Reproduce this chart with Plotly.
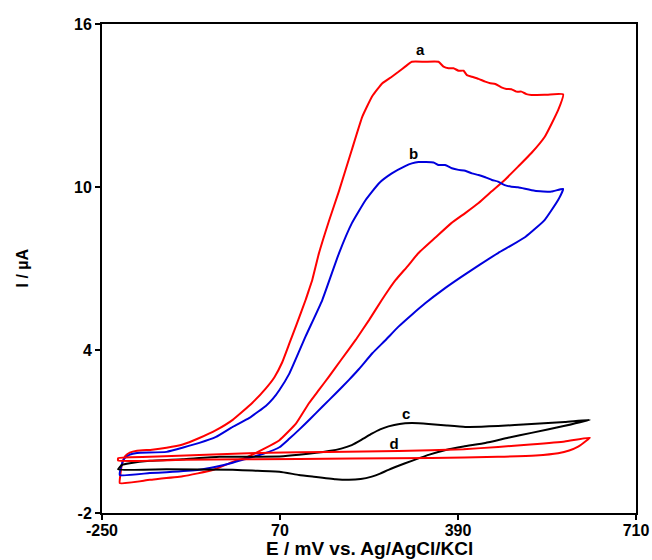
import plotly.graph_objects as go

# ---- data (E in mV, I in uA) ----
# curve a (red, large)
E_a = [-218, -217, -214, -208, -200, -187, -160, -134, -105, -75, -45, -15, 20, 45, 60, 74, 87, 99, 116, 122, 128,
       140, 158, 176, 199, 218, 236, 254, 271, 283, 295, 307, 330, 355, 364, 373, 382, 391, 400, 406, 415,
       427, 439, 448, 457, 468, 477, 486, 495, 504, 513, 522, 550, 579,
       570, 546, 522, 498, 474, 450, 427, 403, 378, 350, 319, 300, 278, 265, 253, 230, 206, 180, 158, 140, 122,
       99, 69, 40, 10, -15, -51, -105, -164, -218]
I_a = [-0.9, -0.6, -0.2, 0.1, 0.22, 0.29, 0.33, 0.4, 0.52, 0.76, 1.05, 1.43, 2.05, 2.6, 3.0, 3.55, 4.25, 4.9, 5.84, 6.21, 6.58,
       7.56, 8.75, 9.85, 11.36, 12.59, 13.35, 13.82, 14.06, 14.24, 14.43, 14.61, 14.61, 14.61, 14.43, 14.37, 14.37, 14.28, 14.28, 14.12, 14.06,
       13.98, 13.88, 13.82, 13.79, 13.67, 13.61, 13.6, 13.51, 13.51, 13.42, 13.39, 13.4, 13.41,
       12.83, 11.85, 11.25, 10.75, 10.26, 9.83, 9.41, 9.04, 8.67, 8.15, 7.57, 7.1, 6.58, 6.21, 5.84, 5.1, 4.37, 3.64, 3.02, 2.53, 2.04,
       1.3, 0.68, 0.35, 0.05, -0.12, -0.42, -0.65, -0.78, -0.9]

# curve b (blue)
E_b = [-218, -215, -210, -200, -187, -134, -75, -45, -15, 15, 45, 57, 69, 87, 116, 146, 176, 199, 224, 248, 271,
       295, 307, 319, 346, 355, 367, 379, 391, 403, 415, 427, 439, 451, 462, 474, 486, 498, 528, 558, 579,
       570, 546, 528, 511, 486, 462, 430, 396, 365, 331, 307, 283, 260, 236, 212, 194, 170, 146, 125, 104,
       86, 69, 40, 10, -15, -45, -75, -134, -164, -218]
I_b = [-0.6, -0.25, 0.0, 0.15, 0.21, 0.25, 0.58, 0.8, 1.17, 1.5, 1.95, 2.2, 2.53, 3.14, 4.5, 5.84, 7.56, 8.66, 9.52, 10.14, 10.5,
       10.77, 10.87, 10.92, 10.9, 10.81, 10.81, 10.69, 10.63, 10.6, 10.5, 10.44, 10.36, 10.26, 10.2, 10.07, 10.01, 9.99, 9.86, 9.83, 9.93,
       9.52, 8.79, 8.45, 8.16, 7.85, 7.57, 7.15, 6.69, 6.25, 5.72, 5.3, 4.86, 4.37, 3.88, 3.3, 2.9, 2.4, 1.91, 1.48, 1.06,
       0.72, 0.42, 0.18, 0.0, -0.15, -0.3, -0.41, -0.5, -0.53, -0.6]

# curve c (black)
E_c = [-221, -214, -200, -164, -105, -39, 69, 104, 158, 180, 199, 217, 235, 250, 265, 285, 307, 337, 370, 403, 462, 522, 582, 627,
       580, 522, 480, 439, 400, 368, 337, 319, 295, 265, 250, 235, 215, 194, 170, 128, 104, 69, 20, -15, -134, -221]
I_c = [-0.39, -0.23, -0.17, -0.08, -0.02, 0.07, 0.08, 0.14, 0.28, 0.37, 0.5, 0.7, 0.92, 1.08, 1.19, 1.28, 1.31, 1.28, 1.22, 1.17, 1.2, 1.28, 1.35, 1.43,
       1.2, 0.95, 0.77, 0.58, 0.45, 0.32, 0.14, 0.01, -0.17, -0.41, -0.55, -0.66, -0.75, -0.78, -0.76, -0.66, -0.6, -0.48, -0.44, -0.41, -0.39, -0.39]

# curve d (red, blank)
E_d = [-221, -150, -50, 50, 158, 283, 400, 462, 520, 582, 627,
       620, 606, 590, 570, 530, 462, 342, 200, 104, -100, -221, -221]
I_d = [0.02, 0.08, 0.15, 0.22, 0.25, 0.28, 0.35, 0.43, 0.52, 0.63, 0.77,
       0.65, 0.44, 0.3, 0.2, 0.12, 0.07, 0.02, 0.01, -0.01, -0.04, -0.07, 0.02]

labels = ["a", "b", "c", "d"]
label_E = [322, 310, 297, 275]
label_I = [14.98, 11.18, 1.61, 0.5]

x_ticks = [-250, 70, 390, 710]
y_ticks = [-2, 4, 10, 16]

RED = "#ff0000"
BLUE = "#0000dd"
BLACK = "#000000"

fig = go.Figure()
for E, I, col in [(E_a, I_a, RED), (E_b, I_b, BLUE), (E_c, I_c, BLACK), (E_d, I_d, RED)]:
    fig.add_trace(go.Scatter(x=E, y=I, mode="lines",
                             line=dict(color=col, width=2, shape="spline", smoothing=0.4),
                             showlegend=False, hoverinfo="skip"))

fig.add_trace(go.Scatter(x=label_E, y=label_I, mode="text", text=labels,
                         textfont=dict(family="Liberation Sans", size=15, color="black", weight=700),
                         showlegend=False, hoverinfo="skip"))

axis_common = dict(showline=True, linewidth=2, linecolor="black", mirror=True,
                   ticks="outside", ticklen=5, tickwidth=2, tickcolor="black",
                   showgrid=False, zeroline=False, ticklabeloverflow="allow",
                   tickfont=dict(family="Liberation Sans", size=16, color="black", weight=700))

fig.update_layout(
    width=652, height=560,
    margin=dict(l=102, r=3, t=24, b=47),
    paper_bgcolor="white", plot_bgcolor="white",
    xaxis=dict(range=[-250, 710], tickvals=x_ticks, ticktext=[str(v) for v in x_ticks],
               ticklabelstandoff=-3, **axis_common),
    yaxis=dict(range=[-2, 16], tickvals=y_ticks, ticktext=[str(v) for v in y_ticks], **axis_common),
    annotations=[
        dict(text="E / mV vs. Ag/AgCl/KCl", xref="paper", yref="paper", x=0.5, y=0,
             xanchor="center", yanchor="bottom", yshift=-47, showarrow=False, borderpad=0,
             font=dict(family="Liberation Sans", size=19, color="black", weight=700)),
        dict(text="I / µA", xref="paper", yref="paper", x=0, y=0.5, textangle=-90,
             xanchor="center", yanchor="middle", xshift=-80, showarrow=False,
             font=dict(family="Liberation Sans", size=16, color="black", weight=700)),
    ],
)

fig.write_html("out.html")
